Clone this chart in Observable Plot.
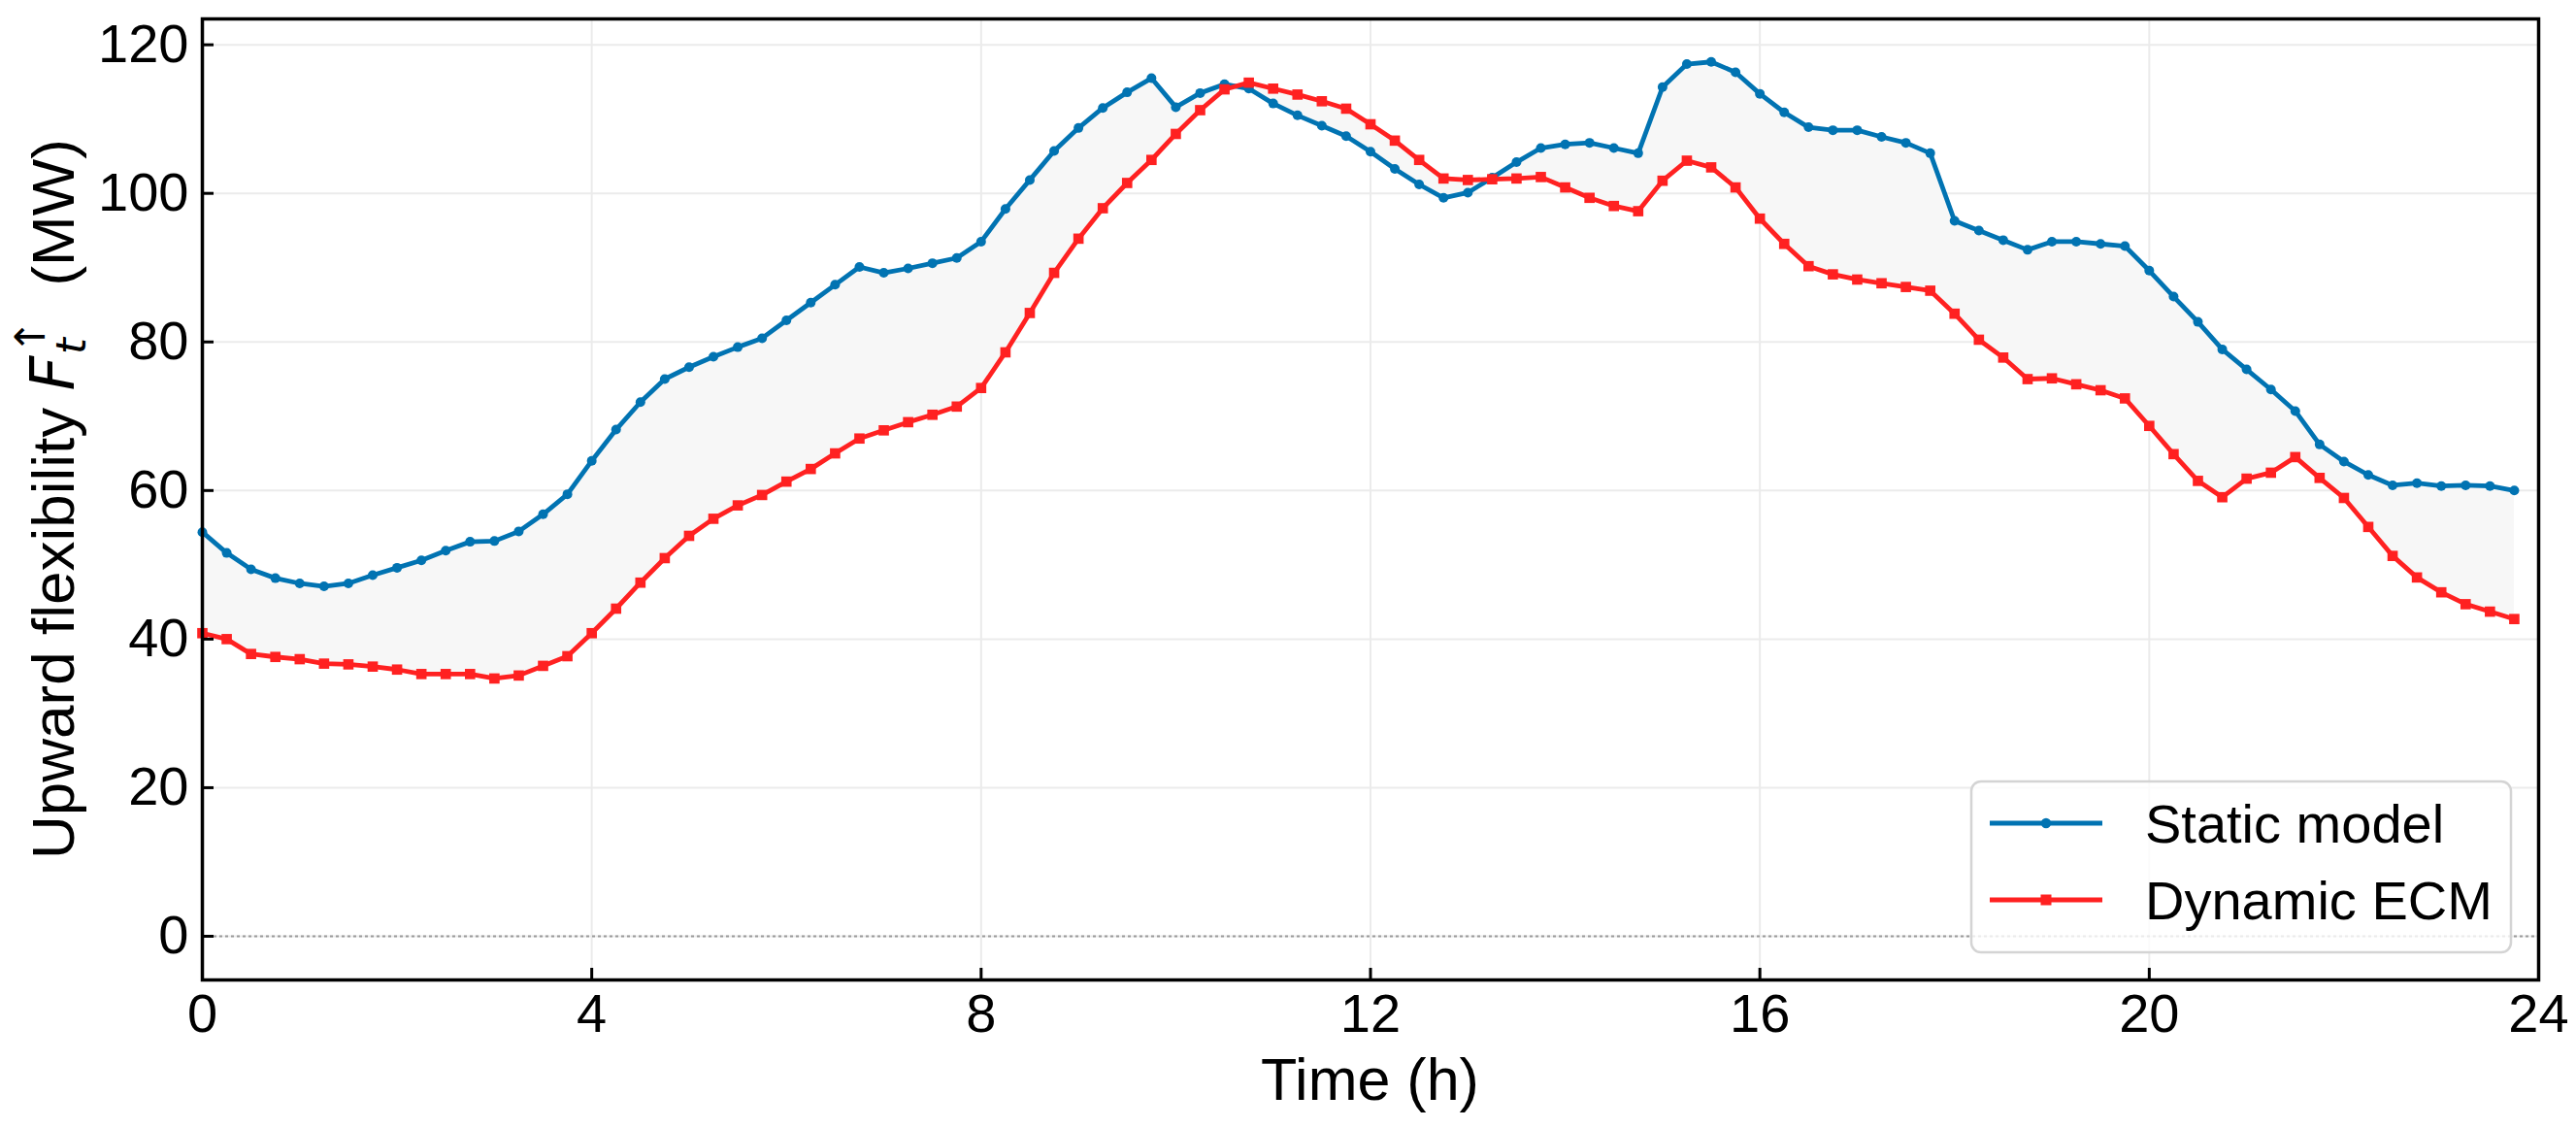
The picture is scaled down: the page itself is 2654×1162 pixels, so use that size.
<!DOCTYPE html>
<html>
<head>
<meta charset="utf-8">
<script src="https://cdn.jsdelivr.net/npm/d3@7"></script>
<script src="https://cdn.jsdelivr.net/npm/@observablehq/plot@0.6"></script>
<style>
  html, body { margin: 0; padding: 0; background: #fff; }
  #chart svg { display: block; }
</style>
</head>
<body>
<div id="chart"></div>
<script>
// ---------- data ----------
const hours = [
  0, 0.25, 0.5, 0.75, 1, 1.25, 1.5, 1.75, 2, 2.25, 2.5, 2.75, 3, 3.25, 3.5, 3.75,
  4, 4.25, 4.5, 4.75, 5, 5.25, 5.5, 5.75, 6, 6.25, 6.5, 6.75, 7, 7.25, 7.5, 7.75,
  8, 8.25, 8.5, 8.75, 9, 9.25, 9.5, 9.75, 10, 10.25, 10.5, 10.75, 11, 11.25, 11.5, 11.75,
  12, 12.25, 12.5, 12.75, 13, 13.25, 13.5, 13.75, 14, 14.25, 14.5, 14.75, 15, 15.25, 15.5, 15.75,
  16, 16.25, 16.5, 16.75, 17, 17.25, 17.5, 17.75, 18, 18.25, 18.5, 18.75, 19, 19.25, 19.5, 19.75,
  20, 20.25, 20.5, 20.75, 21, 21.25, 21.5, 21.75, 22, 22.25, 22.5, 22.75, 23, 23.25, 23.5, 23.75
];
const staticModel = [
  54.4, 51.6, 49.4, 48.2, 47.5, 47.1, 47.5, 48.6, 49.6, 50.6, 51.9, 53.1, 53.2, 54.5, 56.8, 59.5,
  64.0, 68.2, 71.9, 75.0, 76.6, 78.0, 79.3, 80.5, 82.9, 85.3, 87.7, 90.1, 89.3, 89.9, 90.6, 91.3,
  93.5, 97.9, 101.8, 105.7, 108.8, 111.5, 113.6, 115.5, 111.6, 113.5, 114.7, 114.1, 112.1, 110.5, 109.1, 107.7,
  105.6, 103.3, 101.2, 99.4, 100.1, 102.1, 104.2, 106.1, 106.6, 106.8, 106.1, 105.4, 114.3, 117.4, 117.7, 116.3,
  113.4, 110.9, 108.9, 108.5, 108.5, 107.6, 106.8, 105.4, 96.3, 95.0, 93.7, 92.4, 93.5, 93.5, 93.2, 92.9,
  89.6, 86.1, 82.7, 79.0, 76.3, 73.6, 70.7, 66.2, 63.9, 62.1, 60.7, 61.0, 60.6, 60.7, 60.6, 60.0
];
const dynamicECM = [
  40.8, 40.0, 38.0, 37.6, 37.3, 36.7, 36.6, 36.3, 35.9, 35.3, 35.3, 35.3, 34.7, 35.1, 36.4, 37.7,
  40.8, 44.1, 47.6, 50.9, 53.9, 56.2, 58.0, 59.4, 61.2, 62.9, 65.0, 67.0, 68.1, 69.2, 70.2, 71.3,
  73.8, 78.6, 83.9, 89.3, 93.9, 98.0, 101.4, 104.5, 108.0, 111.2, 114.0, 114.9, 114.1, 113.3, 112.4, 111.4,
  109.3, 107.1, 104.5, 102.0, 101.8, 101.9, 102.0, 102.2, 100.8, 99.4, 98.3, 97.6, 101.7, 104.4, 103.5, 100.8,
  96.6, 93.2, 90.2, 89.1, 88.4, 87.9, 87.4, 86.9, 83.8, 80.3, 77.9, 75.0, 75.1, 74.3, 73.5, 72.4,
  68.7, 64.9, 61.3, 59.1, 61.6, 62.4, 64.5, 61.7, 59.0, 55.1, 51.2, 48.3, 46.3, 44.7, 43.7, 42.7
];
const xTicks = [0, 4, 8, 12, 16, 20, 24];
const yTicks = [0, 20, 40, 60, 80, 100, 120];
const seriesNames = ["Static model", "Dynamic ECM"];
const xLabel = "Time (h)";

// ---------- layout ----------
const W = 2654, H = 1162;
const mL = 208, mR = 39, mT = 19, mB = 153;
const innerW = W - mL - mR, innerH = H - mT - mB;
const BLUE = "#0173B2", RED = "#FF2121";
const FONT = "'Liberation Sans', Arial, Helvetica, sans-serif";

const rows = hours.map((t, i) => ({t, s: staticModel[i], d: dynamicECM[i]}));

const chart = Plot.plot({
  width: W, height: H,
  marginLeft: mL, marginRight: mR, marginTop: mT, marginBottom: mB,
  style: {fontFamily: FONT, fontSize: "56px", background: "#fff", color: "#000", overflow: "visible"},
  x: {domain: [0, 24]},
  y: {domain: [-5.88, 123.48]},
  marks: [
    Plot.ruleX(xTicks, {x: d => d, stroke: "#ebebeb", strokeWidth: 2}),
    Plot.ruleY(yTicks, {y: d => d, stroke: "#ebebeb", strokeWidth: 2}),
    Plot.areaY(rows, {x: "t", y1: "d", y2: "s", fill: "#f7f7f7"}),
    Plot.ruleY([0], {stroke: "#9a9a9a", strokeWidth: 2, strokeDasharray: "3,3"}),
    Plot.line(rows, {x: "t", y: "s", stroke: BLUE, strokeWidth: 4.8}),
    Plot.dot(rows, {x: "t", y: "s", r: 5, fill: BLUE, stroke: "none"}),
    Plot.line(rows, {x: "t", y: "d", stroke: RED, strokeWidth: 4.8}),
    Plot.dot(rows, {x: "t", y: "d", symbol: "square", r: 6, fill: RED, stroke: "none"}),
    Plot.frame({stroke: "#000", strokeWidth: 3.5}),
    Plot.tickY(yTicks, {y: d => d, stroke: "#000", strokeWidth: 3, insetRight: innerW - 12}),
    Plot.tickX(xTicks, {x: d => d, stroke: "#000", strokeWidth: 3, insetTop: innerH - 12}),
    Plot.axisX(xTicks, {tickSize: 0, tickPadding: 14, fontSize: 56, label: null}),
    Plot.axisY(yTicks, {tickSize: 0, tickPadding: 14, fontSize: 56, label: null})
  ]
});
document.getElementById("chart").appendChild(chart);

const svg = d3.select(chart);

// x-axis label
svg.append("text")
  .attr("x", mL + innerW / 2).attr("y", 1133)
  .attr("text-anchor", "middle")
  .style("font-family", FONT).style("font-size", "61px").attr("fill", "#000")
  .text(xLabel);

// y-axis label with math, centred on the plot's vertical middle
const yl = svg.append("text")
  .attr("text-anchor", "start")
  .style("font-family", FONT).style("font-size", "62px").attr("fill", "#000");
yl.append("tspan").text("Upward flexibility ");
yl.append("tspan").style("font-family", "'DejaVu Sans'").style("font-style", "italic").text("F");
yl.append("tspan").style("font-family", "'DejaVu Sans'").style("font-style", "italic")
  .style("font-size", "43px").attr("dx", 2).attr("dy", 12).text("t");
yl.append("tspan").style("font-family", "'DejaVu Sans'")
  .style("font-size", "43px").attr("dx", -17).attr("dy", -42).text("↑");
yl.append("tspan").attr("dy", 30).text("\u00a0\u00a0(MW)");
let labLen = 741;
try { const bb = yl.node().getBBox(); if (bb && bb.width > 0) labLen = bb.width; } catch (e) {}
const yMid = mT + innerH / 2;
yl.attr("transform", `translate(76,${yMid + labLen / 2}) rotate(-90)`);

// legend
const lg = svg.append("g").attr("text-anchor", "start");
lg.append("rect")
  .attr("x", 2031).attr("y", 805).attr("width", 556).attr("height", 176)
  .attr("rx", 10).attr("fill", "#fff").attr("fill-opacity", 0.8)
  .attr("stroke", "#d4d4d4").attr("stroke-width", 2.5);
const entries = [
  {name: seriesNames[0], color: BLUE, sym: "circle", y: 848},
  {name: seriesNames[1], color: RED, sym: "square", y: 927}
];
entries.forEach(e => {
  lg.append("line").attr("x1", 2050).attr("x2", 2166).attr("y1", e.y).attr("y2", e.y)
    .attr("stroke", e.color).attr("stroke-width", 4.8);
  if (e.sym === "circle") {
    lg.append("circle").attr("cx", 2108).attr("cy", e.y).attr("r", 5.2).attr("fill", e.color);
  } else {
    lg.append("rect").attr("x", 2102.5).attr("y", e.y - 5.5).attr("width", 11).attr("height", 11).attr("fill", e.color);
  }
  lg.append("text").attr("x", 2210).attr("y", e.y + 20)
    .attr("text-anchor", "start")
    .style("font-family", FONT).style("font-size", "56px").attr("fill", "#000")
    .text(e.name);
});
</script>
</body>
</html>
